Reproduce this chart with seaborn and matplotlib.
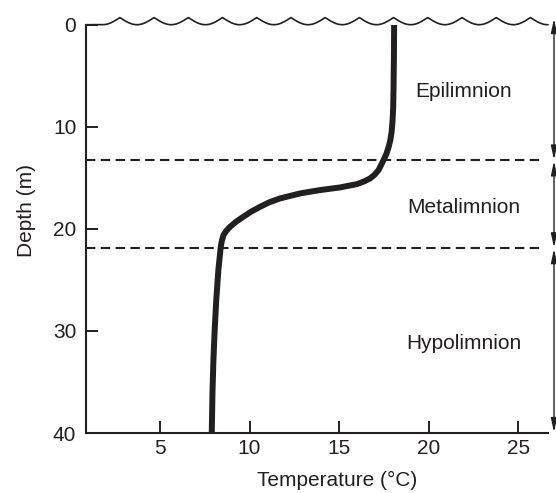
import numpy as np
import pandas as pd
import matplotlib
matplotlib.use("Agg")
import matplotlib.pyplot as plt
import matplotlib.transforms as mtransforms
import seaborn as sns

# --- data ---
depth_m = [0, 3, 6, 8, 9.5, 10.5, 11.3, 12.0, 12.7, 13.26, 13.8, 14.24, 14.7, 15.06, 15.35,
           15.62, 15.94, 16.2, 16.53, 17.02, 17.4, 17.84, 18.3, 18.82, 19.3, 19.8, 20.2,
           20.62, 21.2, 21.8, 24, 27, 30, 33, 36, 40]
temp_c = [18.07, 18.06, 18.04, 18.02, 17.98, 17.93, 17.86, 17.76, 17.63, 17.48, 17.33, 17.2,
          16.98, 16.73, 16.4, 15.99, 15.06, 13.94, 12.82, 11.7, 11.1, 10.59, 10.1, 9.65,
          9.25, 8.91, 8.7, 8.54, 8.45, 8.39, 8.26, 8.14, 8.05, 7.98, 7.93, 7.89]

layer_names = ["Epilimnion", "Metalimnion", "Hypolimnion"]
layer_label_depth = [6.5, 17.9, 31.2]
layer_bounds = [0, 13.3, 21.9, 40]   # thermocline boundaries (m)

x_ticks = [5, 10, 15, 20, 25]
y_ticks = [0, 10, 20, 30, 40]

INK = "#231f20"

sns.set_style("ticks")
plt.rcParams["font.family"] = ["Liberation Sans", "DejaVu Sans"]
plt.rcParams["font.size"] = 15

fig = plt.figure(figsize=(5.56, 4.93), dpi=100)
ax = fig.add_axes([0.1547, 0.1217, 0.9856 - 0.1547, 0.9499 - 0.1217])

df = pd.DataFrame({"Temperature": temp_c, "Depth": depth_m})
sns.lineplot(data=df, x="Temperature", y="Depth", sort=False, color=INK,
             lw=4.3, ax=ax, solid_capstyle="butt", solid_joinstyle="round")

ax.set_xlim(0.87, 26.66)
ax.set_ylim(40, 0)
ax.set_xticks(x_ticks)
ax.set_yticks(y_ticks)

# water surface (decorative scallops), flat for the first bit after the axis
wave_x = np.linspace(0.87, 26.66, 1200)
wave_y = -0.7 * (1 - np.abs(np.sin(np.pi * (wave_x - 18.04) / 1.91)))
wave_y = np.where(wave_x < 1.82, 0, wave_y)
ax.plot(wave_x, wave_y, color=INK, lw=1.2, clip_on=False)

# layer boundaries
for d in layer_bounds[1:-1]:
    ax.axhline(d, xmin=0, xmax=0.99, color=INK, lw=1.5, dashes=(4.5, 2.6))

# layer labels
for name, d in zip(layer_names, layer_label_depth):
    ax.text(21.95, d, name, ha="center", va="center", color=INK, fontsize=15)

# double arrows on the right edge
trans = mtransforms.blended_transform_factory(ax.transAxes, ax.transData)
arrow_tops = [-0.65, layer_bounds[1], layer_bounds[2]]
for top, bot in zip(arrow_tops, layer_bounds[1:]):
    ax.annotate("", xy=(1.013, top), xytext=(1.013, bot), xycoords=trans, textcoords=trans,
                annotation_clip=False,
                arrowprops=dict(arrowstyle="<|-|>,head_length=0.55,head_width=0.12",
                                color=INK, lw=1.0, shrinkA=0.5, shrinkB=0.5))

sns.despine(ax=ax, top=True, right=True)
for side in ["left", "bottom"]:
    ax.spines[side].set_linewidth(1.5)
    ax.spines[side].set_color(INK)
ax.tick_params(axis="both", direction="in", length=8.5, width=1.4, colors=INK,
               labelsize=15, labelcolor=INK)
ax.tick_params(axis="x", pad=4)
ax.tick_params(axis="y", pad=7)

ax.set_xlabel("Temperature (°C)", fontsize=15, color=INK)
ax.set_ylabel("Depth (m)", fontsize=15, color=INK)
ax.xaxis.set_label_coords(0.543, -0.093)
ax.yaxis.set_label_coords(-0.108, 0.546)

fig.savefig("out.png", dpi=100)
